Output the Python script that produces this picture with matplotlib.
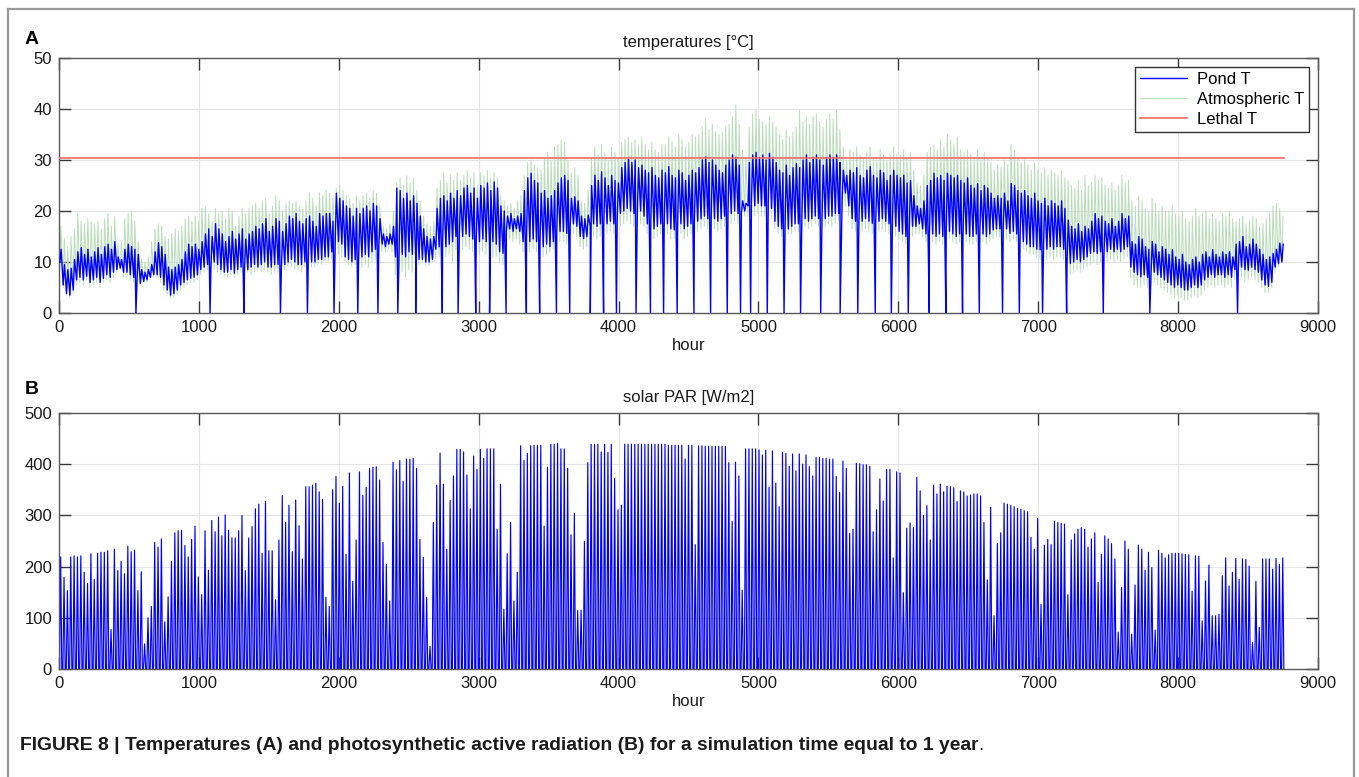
import numpy as np
import matplotlib
matplotlib.use("Agg")
import matplotlib.pyplot as plt
from matplotlib.lines import Line2D

plt.rcParams['font.family'] = ['Liberation Sans', 'DejaVu Sans']

# ---------------- data ----------------
# daily peak of solar PAR [W/m2], day 0..364
par_peak = [
    219, 179, 153, 219, 221, 219, 221, 189, 167, 225,
    175, 226, 228, 228, 231, 77, 234, 192, 210, 186,
    240, 229, 232, 153, 190, 49, 100, 122, 247, 238,
    254, 92, 141, 210, 266, 270, 271, 241, 219, 253,
    279, 180, 145, 270, 193, 290, 268, 297, 260, 301,
    271, 256, 256, 270, 300, 192, 256, 278, 313, 322,
    226, 327, 231, 231, 135, 252, 339, 286, 320, 229,
    330, 280, 215, 356, 356, 359, 363, 346, 331, 140,
    122, 350, 376, 324, 357, 224, 383, 171, 252, 385,
    339, 355, 392, 394, 395, 369, 247, 204, 133, 404,
    389, 407, 366, 410, 410, 411, 392, 253, 218, 140,
    44, 286, 359, 422, 361, 234, 329, 377, 429, 429,
    424, 379, 313, 416, 390, 429, 411, 430, 430, 430,
    273, 361, 117, 225, 286, 133, 189, 436, 407, 421,
    436, 437, 437, 437, 279, 394, 439, 439, 441, 430,
    430, 392, 262, 304, 114, 115, 249, 403, 439, 439,
    439, 424, 439, 423, 439, 372, 311, 320, 439, 439,
    439, 439, 439, 439, 439, 439, 439, 439, 439, 439,
    439, 437, 437, 437, 437, 437, 410, 437, 437, 243,
    436, 436, 435, 435, 435, 435, 435, 435, 435, 403,
    288, 404, 377, 154, 430, 430, 430, 430, 428, 418,
    427, 355, 426, 363, 317, 423, 421, 396, 420, 387,
    420, 400, 418, 395, 377, 413, 413, 411, 411, 410,
    410, 376, 345, 406, 392, 265, 273, 402, 401, 399,
    399, 396, 268, 311, 371, 328, 390, 390, 217, 385,
    383, 149, 275, 285, 276, 374, 348, 300, 319, 252,
    359, 342, 361, 346, 357, 356, 354, 327, 348, 346,
    338, 340, 342, 342, 338, 286, 174, 316, 104, 245,
    266, 324, 322, 319, 317, 314, 312, 309, 307, 257,
    234, 294, 126, 242, 253, 243, 289, 286, 284, 283,
    145, 252, 264, 273, 276, 273, 238, 254, 266, 169,
    224, 260, 254, 245, 215, 72, 159, 250, 234, 68,
    164, 242, 234, 193, 228, 198, 76, 232, 226, 217,
    223, 226, 226, 226, 225, 224, 223, 152, 221, 220,
    94, 172, 203, 104, 104, 107, 182, 217, 162, 189,
    216, 175, 215, 214, 201, 52, 171, 81, 215, 215,
    215, 195, 216, 204, 217,
]

# daily maximum / minimum of pond temperature [degC]
pond_max = [
    12.5, 9.5, 8.5, 8.8, 10.5, 12.0, 12.8, 11.5, 12.5, 11.0,
    12.0, 12.8, 11.5, 13.0, 13.5, 12.5, 14.0, 11.0, 10.5, 12.5,
    13.5, 13.0, 12.5, 11.5, 8.5, 8.0, 8.5, 9.5, 12.0, 13.8,
    13.0, 11.5, 9.0, 8.5, 9.0, 9.5, 10.5, 12.0, 13.5, 13.0,
    13.5, 12.5, 14.0, 15.5, 16.5, 15.0, 17.5, 16.5, 15.5, 14.0,
    15.0, 16.0, 14.5, 15.5, 16.5, 14.5, 15.5, 16.0, 17.0, 16.5,
    17.5, 18.5, 16.0, 17.0, 18.5, 18.0, 16.0, 17.5, 19.0, 18.5,
    19.5, 18.0, 17.5, 18.5, 19.0, 18.0, 17.0, 19.5, 19.0, 19.5,
    19.5, 18.0, 23.5, 22.5, 22.0, 21.0, 20.5, 19.0, 20.5, 19.5,
    20.5, 21.0, 20.0, 21.5, 21.0, 18.5, 15.5, 15.0, 15.5, 17.0,
    24.5, 24.0, 22.5, 23.5, 22.0, 23.0, 21.5, 19.0, 16.5, 15.0,
    14.5, 15.0, 20.5, 22.5, 23.0, 22.0, 23.5, 22.5, 24.0, 23.0,
    24.5, 25.0, 23.5, 24.5, 22.5, 25.0, 24.5, 25.5, 24.0, 25.7,
    24.5, 21.0, 20.0, 19.0, 19.5, 18.5, 19.0, 19.5, 24.0, 26.5,
    27.4, 26.0, 25.5, 23.5, 24.0, 22.5, 23.0, 24.0, 25.5, 26.5,
    27.0, 26.0, 22.5, 22.8, 22.0, 19.0, 18.5, 19.2, 25.0, 27.0,
    26.0, 27.7, 26.5, 25.0, 27.0, 26.0, 25.5, 28.5, 29.5, 30.3,
    29.5, 30.0, 28.5, 29.0, 28.0, 27.5, 28.5, 27.0, 26.5, 28.0,
    27.5, 28.7, 27.0, 26.5, 28.0, 27.5, 26.0, 27.0, 28.0, 27.5,
    28.5, 30.0, 30.6, 29.5, 30.0, 29.0, 28.0, 27.5, 29.0, 30.0,
    31.0, 30.5, 29.0, 22.0, 21.5, 29.5, 31.0, 31.5, 30.5, 31.0,
    30.0, 31.3, 30.5, 29.5, 28.0, 27.5, 29.0, 27.0, 28.5, 29.3,
    28.5, 30.0, 31.0, 29.5, 30.5, 31.0, 30.0, 29.0, 30.5, 31.0,
    30.5, 31.0, 29.5, 28.0, 27.0, 28.0, 27.5, 28.5, 27.0, 26.5,
    28.0, 28.7, 27.0, 26.5, 28.0, 27.5, 26.0, 27.0, 28.0, 27.0,
    26.5, 27.0, 25.5, 26.0, 23.0, 21.0, 20.5, 22.0, 25.0, 26.0,
    27.4, 26.5, 27.0, 26.0, 27.4, 27.0, 26.5, 27.0, 26.0, 25.5,
    26.5, 25.0, 24.5, 25.4, 24.0, 25.0, 24.5, 23.5, 22.5, 23.0,
    22.5, 23.5, 22.0, 25.4, 25.0, 24.0, 23.5, 24.0, 23.0, 22.5,
    23.5, 22.0, 21.5, 22.5, 21.0, 22.0, 21.5, 21.0, 22.0, 20.5,
    18.2, 17.0, 16.5, 17.5, 16.0, 17.0, 16.5, 18.0, 19.5, 18.5,
    19.0, 18.0, 17.5, 18.5, 17.0, 18.0, 19.5, 18.5, 19.0, 14.0,
    13.5, 15.0, 14.5, 13.0, 12.5, 14.0, 13.5, 12.0, 13.0, 12.5,
    11.5, 12.4, 11.0, 10.5, 11.5, 10.0, 9.5, 10.5, 11.0, 10.0,
    11.5, 12.0, 11.0, 12.4, 11.5, 11.0, 12.0, 11.5, 12.0, 11.0,
    13.5, 14.0, 15.0, 13.0, 13.5, 14.5, 13.5, 12.5, 11.5, 10.5,
    11.0, 11.7, 12.5, 13.7, 13.5,
]
pond_min = [
    10.0, 5.5, 3.8, 3.5, 4.5, 6.5, 7.0, 6.5, 7.2, 6.0,
    6.5, 7.0, 6.0, 6.8, 7.5, 7.0, 8.0, 8.5, 8.8, 8.0,
    8.0, 7.5, 7.0, 6.5, 5.8, 6.2, 6.5, 7.0, 7.5, 7.5,
    7.0, 5.5, 4.5, 3.5, 3.8, 4.5, 5.5, 6.0, 6.5, 6.8,
    7.0, 7.5, 8.5, 9.0, 9.5, 9.0, 10.0, 9.5, 8.5, 8.0,
    8.0, 8.5, 7.8, 8.5, 9.0, 8.5, 8.5, 9.0, 9.5, 9.0,
    9.5, 10.0, 9.0, 9.0, 9.5, 9.5, 9.0, 9.5, 10.0, 10.5,
    10.0, 9.5, 9.5, 10.0, 10.5, 10.0, 10.0, 10.5, 10.5, 11.0,
    11.0, 12.0, 13.5, 14.0, 13.5, 11.0, 10.5, 10.0, 10.5, 11.0,
    11.0, 11.5, 11.0, 12.0, 12.5, 13.0, 13.5, 13.0, 13.5, 13.5,
    11.0, 10.5, 11.5, 11.0, 12.0, 11.5, 11.0, 10.5, 10.5, 10.0,
    10.0, 10.5, 12.5, 13.0, 13.5, 13.0, 13.5, 14.0, 15.0, 15.5,
    15.0, 15.5, 15.0, 14.5, 13.5, 14.0, 14.5, 14.0, 13.5, 14.0,
    13.5, 12.0, 11.7, 16.0, 16.5, 16.0, 16.5, 16.0, 14.0, 14.5,
    14.0, 14.5, 14.0, 13.5, 13.0, 13.5, 13.0, 14.0, 15.5, 16.0,
    16.0, 15.6, 17.0, 17.5, 17.0, 15.0, 14.6, 15.0, 17.0, 17.5,
    17.0, 17.5, 17.0, 17.5, 18.0, 17.5, 18.0, 19.5, 20.0, 20.5,
    20.0, 19.5, 19.5, 20.0, 19.0, 17.5, 17.0, 16.5, 17.0, 17.5,
    17.0, 17.5, 16.5, 16.3, 17.0, 17.5, 16.5, 17.0, 17.5, 18.0,
    18.0, 18.5, 19.0, 18.5, 18.2, 18.5, 18.0, 18.5, 19.0, 19.5,
    19.5, 20.0, 19.5, 19.5, 20.0, 21.0, 21.5, 21.0, 21.5, 21.0,
    21.0, 21.5, 20.5, 18.0, 17.0, 16.5, 16.3, 16.5, 17.0, 17.5,
    17.5, 18.0, 18.5, 18.0, 18.5, 19.0, 18.5, 18.0, 18.5, 19.0,
    19.0, 19.5, 19.5, 22.0, 23.5, 21.0, 18.5, 18.0, 17.6, 18.0,
    18.5, 18.0, 17.6, 17.6, 18.0, 18.5, 18.0, 17.5, 18.0, 17.0,
    16.0, 15.5, 15.0, 16.0, 17.0, 17.0, 17.5, 16.5, 15.5, 15.0,
    15.5, 15.0, 15.5, 15.0, 15.5, 16.0, 15.5, 15.0, 15.5, 15.0,
    15.5, 15.0, 15.0, 15.5, 15.0, 15.5, 15.0, 15.5, 16.3, 16.5,
    16.5, 17.0, 16.5, 15.6, 16.0, 15.5, 14.5, 14.0, 13.5, 13.0,
    13.0, 12.5, 12.4, 13.0, 12.5, 13.0, 12.5, 13.0, 13.0, 12.5,
    10.0, 9.7, 10.0, 10.5, 10.0, 10.5, 11.0, 11.7, 12.0, 11.7,
    12.0, 11.7, 12.0, 12.5, 12.0, 12.5, 12.0, 12.5, 13.0, 9.0,
    8.0, 7.5, 7.1, 7.5, 7.0, 7.5, 8.0, 7.5, 7.0, 6.5,
    6.0, 5.5, 5.0, 5.5, 5.0, 4.5, 4.5, 5.0, 5.5, 5.0,
    5.5, 6.5, 7.0, 7.5, 7.0, 7.5, 7.5, 7.0, 7.5, 7.0,
    8.5, 8.5, 9.0, 8.5, 8.4, 9.0, 8.5, 8.0, 6.5, 5.5,
    5.2, 6.0, 9.0, 9.7, 10.0,
]

# daily maximum / minimum of atmospheric temperature [degC]
atm_max = [
    17.0, 14.5, 13.0, 15.0, 16.5, 19.5, 18.0, 17.5, 18.5, 18.0,
    17.5, 18.0, 16.5, 18.5, 19.5, 17.0, 19.0, 13.5, 14.0, 18.5,
    19.5, 20.0, 18.0, 14.0, 10.5, 10.0, 11.0, 14.0, 16.5, 17.5,
    17.0, 15.0, 14.5, 15.5, 16.5, 16.0, 17.0, 18.5, 19.0, 18.0,
    19.0, 18.0, 20.5, 20.8, 19.5, 18.0, 20.5, 19.5, 20.0, 18.5,
    20.5, 20.0, 17.0, 19.0, 20.5, 19.5, 20.5, 21.0, 21.5, 20.5,
    22.0, 22.5, 19.5, 21.0, 23.0, 22.0, 20.0, 21.5, 22.0, 21.5,
    22.0, 21.0, 20.5, 22.0, 23.5, 22.5, 21.0, 23.5, 23.0, 24.0,
    23.5, 22.5, 24.5, 25.0, 24.0, 23.0, 22.5, 21.5, 23.0, 22.0,
    23.0, 23.5, 22.5, 24.0, 23.5, 21.0, 17.0, 16.5, 17.5, 20.0,
    25.5, 26.5, 25.0, 27.0, 25.5, 26.5, 24.0, 22.0, 19.0, 17.5,
    17.0, 18.0, 24.5, 26.0, 27.5, 25.5, 27.0, 26.0, 27.5, 26.0,
    27.0, 28.0, 26.5, 27.5, 25.0, 27.5, 27.0, 28.0, 26.5, 27.5,
    26.5, 23.0, 22.0, 21.0, 21.5, 20.5, 22.0, 23.0, 27.0, 29.5,
    30.0, 29.0, 28.5, 28.0, 30.5, 31.5, 30.0, 32.5, 33.0, 34.0,
    33.5, 30.0, 27.5, 28.5, 27.0, 22.0, 21.5, 24.0, 30.5, 32.5,
    31.0, 33.0, 31.5, 30.0, 32.5, 31.5, 30.5, 33.5, 34.0, 34.5,
    33.5, 34.0, 33.0, 34.5, 33.0, 32.0, 33.5, 32.0, 31.5, 33.0,
    33.0, 34.5, 33.5, 32.5, 35.0, 34.0, 32.5, 33.5, 35.0, 34.5,
    35.0, 36.5, 38.0, 36.0, 37.0, 35.5, 35.0, 35.5, 36.5, 37.0,
    38.5, 40.8, 37.0, 32.0, 30.5, 36.5, 39.0, 39.8, 38.0, 37.5,
    37.0, 38.5, 37.5, 36.5, 35.0, 34.0, 36.0, 34.5, 35.5, 36.5,
    39.8, 37.5, 38.5, 37.0, 38.5, 39.0, 37.5, 36.5, 38.0, 39.0,
    38.0, 39.8, 36.0, 32.5, 30.0, 32.0, 31.5, 32.6, 31.0, 30.5,
    31.5, 32.5, 30.5, 30.0, 32.0, 31.0, 30.0, 31.0, 32.5, 31.0,
    31.0, 32.0, 30.5, 31.5, 28.0, 25.5, 25.0, 27.0, 31.5, 32.5,
    33.0, 32.0, 34.0, 32.5, 35.0, 34.0, 33.0, 34.5, 32.0, 31.5,
    32.0, 31.0, 30.5, 32.0, 30.0, 31.5, 30.5, 29.5, 28.0, 29.0,
    28.5, 30.0, 29.0, 33.0, 32.0, 30.5, 29.5, 30.0, 29.0, 28.0,
    29.5, 28.0, 27.5, 28.5, 27.0, 28.0, 27.5, 27.0, 28.0, 26.5,
    26.0, 25.0, 24.5, 26.0, 24.0, 27.0, 25.0, 25.5, 27.0, 26.0,
    26.5, 25.0, 24.5, 25.5, 24.0, 25.0, 27.0, 25.5, 26.0, 22.0,
    21.0, 23.0, 22.0, 20.5, 20.0, 22.5, 21.5, 20.0, 21.0, 20.0,
    20.0, 21.0, 19.5, 19.0, 20.0, 18.5, 18.0, 19.0, 20.5, 19.0,
    19.5, 20.0, 18.5, 19.5, 18.5, 18.0, 19.5, 19.0, 20.0, 18.5,
    18.0, 18.5, 19.0, 17.5, 18.0, 19.0, 18.5, 17.0, 17.5, 18.5,
    19.5, 21.0, 21.5, 20.5, 19.0,
]
atm_min = [
    9.0, 5.0, 3.5, 3.0, 4.0, 5.5, 6.0, 5.5, 6.5, 5.0,
    5.5, 6.0, 5.0, 6.0, 6.5, 6.0, 7.0, 8.0, 8.5, 7.0,
    7.0, 6.5, 6.0, 6.0, 5.5, 6.0, 6.0, 6.5, 7.0, 7.0,
    6.0, 4.5, 3.5, 3.0, 3.0, 3.5, 4.5, 5.0, 5.5, 6.0,
    6.0, 6.5, 7.5, 8.0, 8.5, 8.0, 8.5, 8.0, 7.5, 7.0,
    7.0, 7.5, 7.0, 7.5, 8.0, 7.5, 8.0, 7.5, 8.0, 8.5,
    8.0, 8.5, 8.0, 7.5, 8.0, 8.0, 8.0, 8.5, 9.0, 9.0,
    8.5, 8.5, 8.0, 9.0, 9.5, 9.0, 9.0, 9.5, 9.5, 10.0,
    10.0, 10.5, 11.0, 11.5, 11.0, 10.0, 9.5, 9.0, 9.5, 9.5,
    9.0, 9.5, 9.0, 10.0, 10.5, 11.0, 12.0, 12.0, 12.5, 12.0,
    7.5, 7.0, 8.0, 7.0, 8.5, 8.0, 9.0, 9.5, 10.0, 9.5,
    9.5, 10.0, 10.5, 11.0, 12.0, 11.0, 11.5, 10.0, 12.5, 13.0,
    12.5, 13.0, 12.5, 12.0, 11.0, 11.5, 12.0, 11.5, 10.5, 11.0,
    11.0, 10.0, 9.5, 14.0, 14.5, 14.0, 14.5, 13.5, 12.0, 12.5,
    12.0, 12.5, 12.0, 11.5, 11.0, 11.5, 12.0, 12.5, 13.5, 14.0,
    14.0, 13.5, 15.0, 15.5, 15.0, 13.0, 12.5, 13.0, 14.5, 15.0,
    14.5, 15.0, 15.0, 15.5, 16.0, 15.5, 16.0, 17.0, 17.5, 18.0,
    17.5, 17.0, 17.0, 17.5, 17.0, 15.5, 15.0, 14.5, 15.0, 15.5,
    15.0, 15.5, 14.5, 14.5, 15.0, 15.5, 14.5, 15.0, 15.5, 16.0,
    16.0, 16.5, 17.0, 16.5, 16.5, 16.5, 16.0, 16.5, 17.0, 17.5,
    17.5, 18.0, 17.5, 18.5, 19.0, 19.0, 19.5, 19.0, 19.5, 19.0,
    19.0, 19.5, 18.5, 16.5, 15.5, 15.0, 15.0, 15.5, 15.5, 16.0,
    16.0, 16.5, 17.0, 16.5, 17.0, 17.5, 17.0, 16.5, 17.0, 17.5,
    17.0, 17.5, 18.0, 20.0, 21.0, 19.0, 16.5, 16.0, 15.5, 16.0,
    16.5, 16.0, 15.5, 15.5, 16.0, 16.5, 16.0, 15.5, 16.0, 15.0,
    14.5, 14.0, 13.5, 14.0, 15.0, 15.5, 15.5, 15.0, 14.0, 13.5,
    14.0, 13.5, 14.0, 13.5, 14.0, 14.5, 14.0, 13.5, 14.0, 13.5,
    14.0, 13.5, 13.5, 14.0, 13.5, 14.0, 13.5, 14.0, 14.5, 15.0,
    15.0, 15.0, 14.5, 14.0, 14.5, 14.0, 13.0, 12.5, 12.0, 11.5,
    11.5, 11.0, 10.5, 11.0, 10.5, 11.0, 10.5, 11.0, 11.0, 10.5,
    8.0, 7.5, 8.0, 8.5, 8.0, 8.5, 9.0, 9.5, 10.0, 9.5,
    10.0, 9.5, 10.0, 10.5, 10.0, 10.5, 10.0, 10.5, 11.0, 7.0,
    5.5, 5.0, 5.0, 5.5, 5.0, 5.5, 6.0, 5.5, 5.0, 4.5,
    4.0, 3.5, 3.0, 3.5, 3.0, 2.5, 2.5, 3.0, 3.5, 3.0,
    3.5, 4.5, 5.0, 5.5, 5.0, 5.5, 5.5, 5.0, 5.5, 5.0,
    6.5, 6.5, 7.0, 6.0, 6.5, 7.0, 6.5, 6.0, 5.0, 4.0,
    4.0, 5.0, 8.0, 9.0, 10.0,
]

# hours at which the pond temperature series falls to zero
drop_hours = [
    550, 1080, 1322, 1583, 1776, 1966, 2136, 2280, 2422, 2550,
    2740, 2853, 2979, 3078, 3196, 3341, 3436, 3556, 3651, 3798,
    3893, 3985, 4125, 4228, 4322, 4419, 4539, 4658, 4777, 4872,
    4944, 5063, 5183, 5301, 5445, 5584, 5710, 5835, 5950, 6071,
    6221, 6340, 6459, 6579, 6745, 6865, 7031, 7203, 7465, 7798,
    8425,
]

lethal_T = 30.3
sim_hours = 8760

x_ticks = list(range(0, 10000, 1000))
temp_ticks = [0, 10, 20, 30, 40, 50]
par_ticks = [0, 100, 200, 300, 400, 500]

# ---------------- series ----------------
n = len(par_peak)
day0 = np.arange(n) * 24.0
zeros = np.zeros(n)

# PAR is zero at night and peaks at midday
par_x = np.column_stack([day0 + 4, day0 + 12, day0 + 20]).ravel()
par_y = np.column_stack([zeros, par_peak, zeros]).ravel()

pond_x = np.column_stack([day0 + 6, day0 + 15]).ravel()
pond_y = np.column_stack([pond_min, pond_max]).ravel()
pond_x = np.concatenate([pond_x, drop_hours])
pond_y = np.concatenate([pond_y, np.zeros(len(drop_hours))])
order = np.argsort(pond_x, kind="stable")
pond_x, pond_y = pond_x[order], pond_y[order]

atm_x = np.column_stack([day0 + 5, day0 + 14]).ravel()
atm_y = np.column_stack([atm_min, atm_max]).ravel()

# ---------------- figure ----------------
W, H = 1359, 777
fig = plt.figure(figsize=(W / 100, H / 100), dpi=100)

frame_col = "#9a9a9a"
fig.add_artist(Line2D([8 / W, 1354 / W], [1 - 9 / H, 1 - 9 / H],
                      transform=fig.transFigure, color=frame_col, lw=1.6))
fig.add_artist(Line2D([8 / W, 8 / W], [0, 1 - 9 / H], transform=fig.transFigure,
                      color=frame_col, lw=1.6))
fig.add_artist(Line2D([1354 / W, 1354 / W], [0, 1 - 9 / H], transform=fig.transFigure,
                      color=frame_col, lw=1.6))

axA = fig.add_axes([59 / W, 1 - 313 / H, (1318 - 59) / W, (313 - 58) / H])
axB = fig.add_axes([59 / W, 1 - 669 / H, (1318 - 59) / W, (669 - 413) / H])


def style(ax, yticks):
    ax.set_xlim(0, 9000)
    ax.set_ylim(yticks[0], yticks[-1])
    ax.set_xticks(x_ticks)
    ax.set_yticks(yticks)
    ax.grid(True, color="#e4e4e4", lw=0.8)
    ax.set_axisbelow(True)
    ax.tick_params(direction="in", length=8.5, width=1.0, color="#3a3a3a",
                   labelsize=12, labelcolor="#1a1a1a", top=True, right=True, pad=5)
    for s in ax.spines.values():
        s.set_color("#5a5a5a")
        s.set_linewidth(1.0)
    ax.set_xlabel("hour", fontsize=12, labelpad=2, color="#1a1a1a")


# panel A: temperatures
hp, = axA.plot(pond_x, pond_y, color="#0000ff", lw=1.0, zorder=3, label="Pond T")
ha, = axA.plot(atm_x, atm_y, color="#b9dcb9", lw=0.7, zorder=2, label="Atmospheric T")
hl, = axA.plot([0, sim_hours], [lethal_T, lethal_T], color="#f06a6a", lw=1.2,
               zorder=4, label="Lethal T")
style(axA, temp_ticks)
axA.set_title("temperatures [°C]", fontsize=12, pad=8, color="#1a1a1a")
leg = axA.legend(handles=[hp, ha, hl], loc="upper right", fontsize=12,
                 frameon=True, fancybox=False, framealpha=1, edgecolor="#333333",
                 handlelength=2.8, handletextpad=0.6, labelspacing=0.3,
                 borderpad=0.3, borderaxespad=0.55)
leg.get_frame().set_linewidth(1.0)
leg.set_zorder(10)

# panel B: solar PAR
axB.plot(par_x, par_y, color="#0000ff", lw=0.85)
style(axB, par_ticks)
axB.set_title("solar PAR [W/m2]", fontsize=12, pad=8, color="#1a1a1a")

fig.text(25 / W, 1 - 40 / H, "A", fontsize=14, fontweight="bold", va="center", ha="left")
fig.text(25 / W, 1 - 390 / H, "B", fontsize=14, fontweight="bold", va="center", ha="left")

cap_family = ["Liberation Sans Narrow", "Liberation Sans", "DejaVu Sans"]
cap_y = 1 - 745 / H
cap = fig.text(20 / W, cap_y,
               "FIGURE 8 | Temperatures (A) and photosynthetic active radiation (B) "
               "for a simulation time equal to 1 year",
               fontsize=13.9, fontweight="bold", family=cap_family, va="center",
               ha="left", color="#1a1a1a")
fig.canvas.draw()
bb = cap.get_window_extent(renderer=fig.canvas.get_renderer())
fig.text(bb.x1 / W, cap_y, ".", fontsize=13.9, family=cap_family, va="center",
         ha="left", color="#1a1a1a")

fig.savefig("out.png", dpi=100)
